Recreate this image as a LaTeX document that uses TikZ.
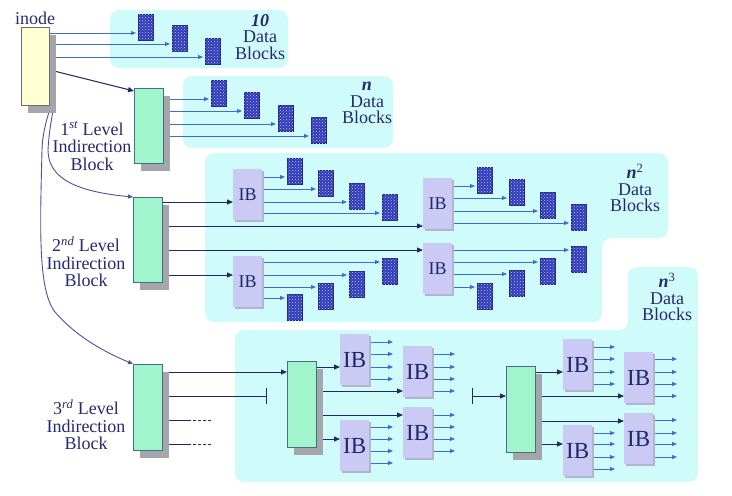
\documentclass[tikz,border=0pt]{standalone}
\usepackage{fontspec}
\setmainfont{Liberation Serif}
\usetikzlibrary{arrows.meta,calc,patterns,shadows}
\pgfdeclarelayer{bg}
\pgfdeclarelayer{lines}
\pgfsetlayers{bg,lines,main}
\definecolor{regionc}{RGB}{208,251,251}
\definecolor{greenf}{RGB}{160,245,205}
\definecolor{greend}{RGB}{70,110,130}
\definecolor{shadowc}{RGB}{165,165,172}
\definecolor{inodef}{RGB}{255,255,210}
\definecolor{inoded}{RGB}{110,110,110}
\definecolor{ibf}{RGB}{202,202,244}
\definecolor{ibs}{RGB}{180,180,205}
\definecolor{navy}{RGB}{30,40,105}
\definecolor{txt}{RGB}{40,40,110}
\definecolor{lblue}{RGB}{60,110,210}
\definecolor{curvec}{RGB}{80,80,150}
\definecolor{dbf}{RGB}{45,55,185}
\definecolor{dbd}{RGB}{30,35,120}
\definecolor{dotc}{RGB}{200,210,255}
\tikzset{
  region/.style={fill=regionc, rounded corners=9pt},
  lvl/.style={draw=greend, fill=greenf, line width=1pt, minimum width=29pt, inner sep=0pt, anchor=north west,
    general shadow={fill=shadowc, draw=none, shadow xshift=6pt, shadow yshift=-7pt}},
  inodebox/.style={draw=inoded, fill=inodef, line width=1pt, minimum width=28pt, minimum height=78pt, inner sep=0pt, anchor=north west,
    general shadow={fill=shadowc, draw=none, shadow xshift=6pt, shadow yshift=-7pt}},
  ibbox/.style={fill=ibf, draw=none, minimum width=29pt, minimum height=51pt, inner sep=0pt, anchor=north west, text=navy,
    general shadow={fill=ibs, draw=none, shadow xshift=1.5pt, shadow yshift=-1.5pt}},
  ibsmall/.style={ibbox, font=\fontsize{18}{18}\selectfont},
  iblarge/.style={ibbox, font=\fontsize{23}{23}\selectfont},
  dblock/.style={draw=dbd, line width=0.5pt, fill=dbf, postaction={pattern=crosshatch dots, pattern color=dotc},
    minimum width=15pt, minimum height=26pt, inner sep=0pt, anchor=north west},
  dArr/.style={draw=lblue, line width=0.9pt, -{Triangle[length=5pt,width=4pt]}},
  nLine/.style={draw=navy, line width=1pt},
  nArr/.style={nLine, -{Triangle[length=6pt,width=5pt]}},
  cArr/.style={draw=curvec, line width=0.9pt, -{Triangle[length=5pt,width=4pt]}},
  lbl/.style={text=txt, align=center, inner sep=0pt, font=\fontsize{18}{17.5}\selectfont},
  rlbl/.style={text=txt, align=center, inner sep=0pt, font=\fontsize{18}{16.5}\selectfont}
}
\newcommand{\feed}[5]{%
  \coordinate (#2-in) at (#3-2,#4);
  \node[dblock] (#2) at (#3,#4-#5) {};
  \begin{pgfonlayer}{lines}
    \draw[dArr] (#1.east |- #2-in) -- (#2-in);
  \end{pgfonlayer}}
\newcommand{\outs}[4]{%
  \foreach \yv [count=\iv] in {#3} {%
    \coordinate (#4\iv) at (#2,\yv);
    \begin{pgfonlayer}{lines}\draw[dArr] (#1.east |- #4\iv) -- (#4\iv);\end{pgfonlayer}}}
\begin{document}
\begin{tikzpicture}[x=1pt,y=-1pt]
\useasboundingbox (0,0) rectangle (732,496);
% background regions
\begin{pgfonlayer}{bg}
  \fill[region] (110,10) rectangle (288,68);
  \fill[region] (183,76) rectangle (393,148);
  \fill[region] (205,153) -- (668,153) -- (668,238) -- (602,238) -- (602,322) -- (205,322) -- cycle;
  \fill[region] (235,330) -- (628,330) -- (628,267) -- (698,267) -- (698,482) -- (235,482) -- cycle;
\end{pgfonlayer}
% region labels
\node[rlbl] (t10) at (260,37) {\textbf{\textit{10}}\\Data\\Blocks};
\node[rlbl] (tn) at (367,103) {\textbf{\textit{n}}\\Data\\Blocks};
\node[rlbl] (tn2) at (635,188) {\textbf{\textit{n}}\textsuperscript{2}\\Data\\Blocks};
\node[rlbl] (tn3) at (667,297) {\textbf{\textit{n}}\textsuperscript{3}\\Data\\Blocks};
% inode and level blocks
\node[inodebox] (inode) at (21,27) {};
\node[lbl] (inodelbl) at (35,18) {inode};
\node[lvl, minimum height=75pt] (l1) at (134,88) {};
\node[lvl, minimum height=85pt] (l2) at (133,197) {};
\node[lvl, minimum height=86pt] (l3) at (133,364) {};
\node[lvl, minimum height=86pt] (m2) at (287,361) {};
\node[lvl, minimum height=86pt] (m3) at (506,366) {};
\node[lbl] (lab1) at (92,146) {1\textsuperscript{\itshape st} Level\\Indirection\\Block};
\node[lbl] (lab2) at (86,262) {2\textsuperscript{\itshape nd} Level\\Indirection\\Block};
\node[lbl] (lab3) at (86,425) {3\textsuperscript{\itshape rd} Level\\Indirection\\Block};
% IB boxes
\node[ibsmall] (ib1) at (233,169) {IB};
\node[ibsmall] (ib2) at (233,256) {IB};
\node[ibsmall] (ib3) at (423,178) {IB};
\node[ibsmall] (ib4) at (423,243) {IB};
\node[iblarge] (iba) at (340,334) {IB};
\node[iblarge] (ibb) at (340,420) {IB};
\node[iblarge] (ibc) at (403,346) {IB};
\node[iblarge] (ibd) at (403,407) {IB};
\node[iblarge] (ibe) at (563,339) {IB};
\node[iblarge] (ibf) at (563,425) {IB};
\node[iblarge] (ibg) at (624,352) {IB};
\node[iblarge] (ibh) at (624,413) {IB};
% data blocks with their arrows
\feed{inode}{a1}{138}{33}{19}
\feed{inode}{a2}{172}{44}{19}
\feed{inode}{a3}{205}{57}{19}
\feed{l1}{b1}{211}{99}{19}
\feed{l1}{b2}{244}{111}{19}
\feed{l1}{b3}{278}{124}{19}
\feed{l1}{b4}{311}{136}{19}
\feed{ib1}{c1}{287}{177}{19}
\feed{ib1}{c2}{318}{189}{19}
\feed{ib1}{c3}{349}{202}{19}
\feed{ib1}{c4}{382}{213}{19}
\feed{ib2}{d1}{382}{262}{4}
\feed{ib2}{d2}{349}{275}{4}
\feed{ib2}{d3}{318}{287}{4}
\feed{ib2}{d4}{287}{298}{4}
\feed{ib3}{e1}{477}{186}{19}
\feed{ib3}{e2}{509}{198}{19}
\feed{ib3}{e3}{540}{211}{19}
\feed{ib3}{e4}{571}{223}{19}
\feed{ib4}{f1}{571}{250}{4}
\feed{ib4}{f2}{540}{262}{4}
\feed{ib4}{f3}{509}{274}{4}
\feed{ib4}{f4}{477}{287}{4}
% free arrows out of the lower IBs
\outs{iba}{393}{342,354,367,379}{pa}
\outs{ibb}{393}{427,439,451,463}{pb}
\outs{ibc}{455}{354,367,379,391}{pc}
\outs{ibd}{455}{415,427,439,451}{pd}
\outs{ibe}{615}{347,359,372,384}{pe}
\outs{ibf}{615}{433,444,457,469}{pf}
\outs{ibg}{677}{359,372,384,396}{pg}
\outs{ibh}{677}{420,433,444,457}{ph}
% connectors
\coordinate (tEnd) at (267,396);
\coordinate (tStart) at (472,396);
\coordinate (dA) at (188,420);
\coordinate (dB) at (211,420);
\coordinate (dC) at (188,444);
\coordinate (dD) at (211,444);
\begin{pgfonlayer}{lines}
  \draw[nArr] (inode.east |- 0,70) -- ($(l1.north west)+(0,3)$);
  \draw[cArr] ($(inode.south east)+(0,-23)$) .. controls (62,88) and (50,110) .. (48,150)
       .. controls (48,180) and (80,192) .. (l2.north west);
  \draw[cArr] ($(inode.south east)+(0,-17)$) .. controls (60,94) and (43,115) .. (42,150)
       .. controls (40,230) and (38,290) .. (55,312) .. controls (75,335) and (100,350) .. (l3.north west);
  \draw[nArr] (l2.east |- 0,202) -- (ib1.west |- 0,202);
  \draw[nArr] (l2.east |- 0,226) -- (ib3.west |- 0,226);
  \draw[nArr] (l2.east |- 0,250) -- (ib4.west |- 0,250);
  \draw[nArr] (l2.east |- 0,275) -- (ib2.west |- 0,275);
  \draw[nArr] (l3.east |- 0,372) -- (m2.west |- 0,372);
  \draw[nLine, -{Bar[width=16pt]}] (l3.east |- tEnd) -- (tEnd);
  \draw[nLine] (l3.east |- dA) -- (dA);
  \draw[nLine, line width=0.8pt, dash pattern=on 3pt off 2pt] (dA) -- (dB);
  \draw[nLine] (l3.east |- dC) -- (dC);
  \draw[nLine, line width=0.8pt, dash pattern=on 3pt off 2pt] (dC) -- (dD);
  \draw[nArr] (m2.east |- 0,367) -- (iba.west |- 0,367);
  \draw[nArr] (m2.east |- 0,391) -- (ibc.west |- 0,391);
  \draw[nArr] (m2.east |- 0,415) -- (ibd.west |- 0,415);
  \draw[nArr] (m2.east |- 0,439) -- (ibb.west |- 0,439);
  \draw[nLine, {Bar[width=16pt]}-{Triangle[length=6pt,width=5pt]}] (tStart) -- (m3.west |- tStart);
  \draw[nArr] (m3.east |- 0,372) -- (ibe.west |- 0,372);
  \draw[nArr] (m3.east |- 0,396) -- (ibg.west |- 0,396);
  \draw[nArr] (m3.east |- 0,421) -- (ibh.west |- 0,421);
  \draw[nArr] (m3.east |- 0,444) -- (ibf.west |- 0,444);
\end{pgfonlayer}
\end{tikzpicture}
\end{document}
